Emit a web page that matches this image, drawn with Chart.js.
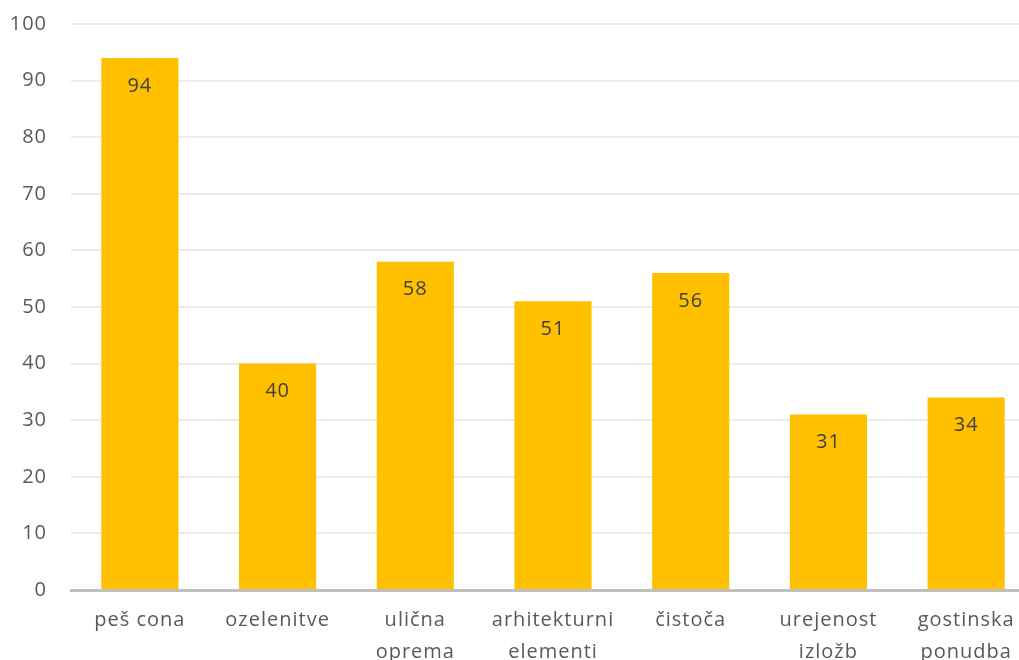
<!DOCTYPE html>
<html>
<head>
<meta charset="utf-8">
<script src="https://cdn.jsdelivr.net/npm/chart.js@4/dist/chart.umd.min.js"></script>
<style>
    html, body { margin: 0; padding: 0; background: #fff; overflow: hidden; }
    #wrap { width: 1036px; height: 660px; position: relative; }
</style>
</head>
<body>
<div id="wrap"><canvas id="bars"></canvas></div>
<script>
const categories = [
    'peš cona',
    'ozelenitve',
    ['ulična', 'oprema'],
    ['arhitekturni', 'elementi'],
    'čistoča',
    ['urejenost', 'izložb'],
    ['gostinska', 'ponudba'],
]
const values = [94, 40, 58, 51, 56, 31, 34]
const yTicks = [0, 10, 20, 30, 40, 50, 60, 70, 80, 90, 100]

const fontFamily = '"Open Sans", "Noto Sans", sans-serif'

// wider letter spacing like the original office chart
const spacing = {
    id: 'spacing',
    beforeDraw(chart) {
        chart.ctx.letterSpacing = '1px'
    },
}

// labels drawn inside the top of each bar
const barLabels = {
    id: 'barLabels',
    afterDatasetsDraw(chart) {
        const ctx = chart.ctx
        const meta = chart.getDatasetMeta(0)
        ctx.save()
        ctx.font = '20px ' + fontFamily
        ctx.fillStyle = '#404040'
        ctx.textAlign = 'center'
        ctx.textBaseline = 'middle'
        meta.data.forEach((bar, i) => {
            ctx.fillText(String(values[i]), bar.x, bar.y + 28)
        })
        ctx.restore()
    },
}

new Chart('bars', {
    type: 'bar',
    data: {
        labels: categories,
        datasets: [
            {
                data: values,
                backgroundColor: '#FFC000',
                barPercentage: 0.56,
                categoryPercentage: 1,
            },
        ],
    },
    plugins: [spacing, barLabels],
    options: {
        responsive: true,
        maintainAspectRatio: false,
        animation: false,
        layout: {
            padding: { top: 24, right: 1, left: 0, bottom: 0 },
        },
        plugins: {
            legend: { display: false },
            tooltip: { enabled: false },
        },
        scales: {
            x: {
                grid: { display: false, drawTicks: false },
                border: { color: '#BFBFBF', width: 3 },
                ticks: {
                    color: '#595959',
                    font: { family: fontFamily, size: 20, lineHeight: 1.6 },
                    padding: 14,
                    maxRotation: 0,
                    autoSkip: false,
                },
                afterFit(scale) {
                    scale.height = 70
                },
            },
            y: {
                min: 0,
                max: 100,
                afterBuildTicks(scale) {
                    scale.ticks = yTicks.map((v) => ({ value: v }))
                },
                grid: { color: '#EBEBEB', lineWidth: 2, drawTicks: false },
                border: { display: false },
                ticks: {
                    color: '#595959',
                    font: { family: fontFamily, size: 20 },
                    padding: 24,
                },
                afterFit(scale) {
                    scale.width = 71
                    scale.paddingTop = 0
                    scale.paddingBottom = 0
                },
            },
        },
    },
})
</script>
</body>
</html>
